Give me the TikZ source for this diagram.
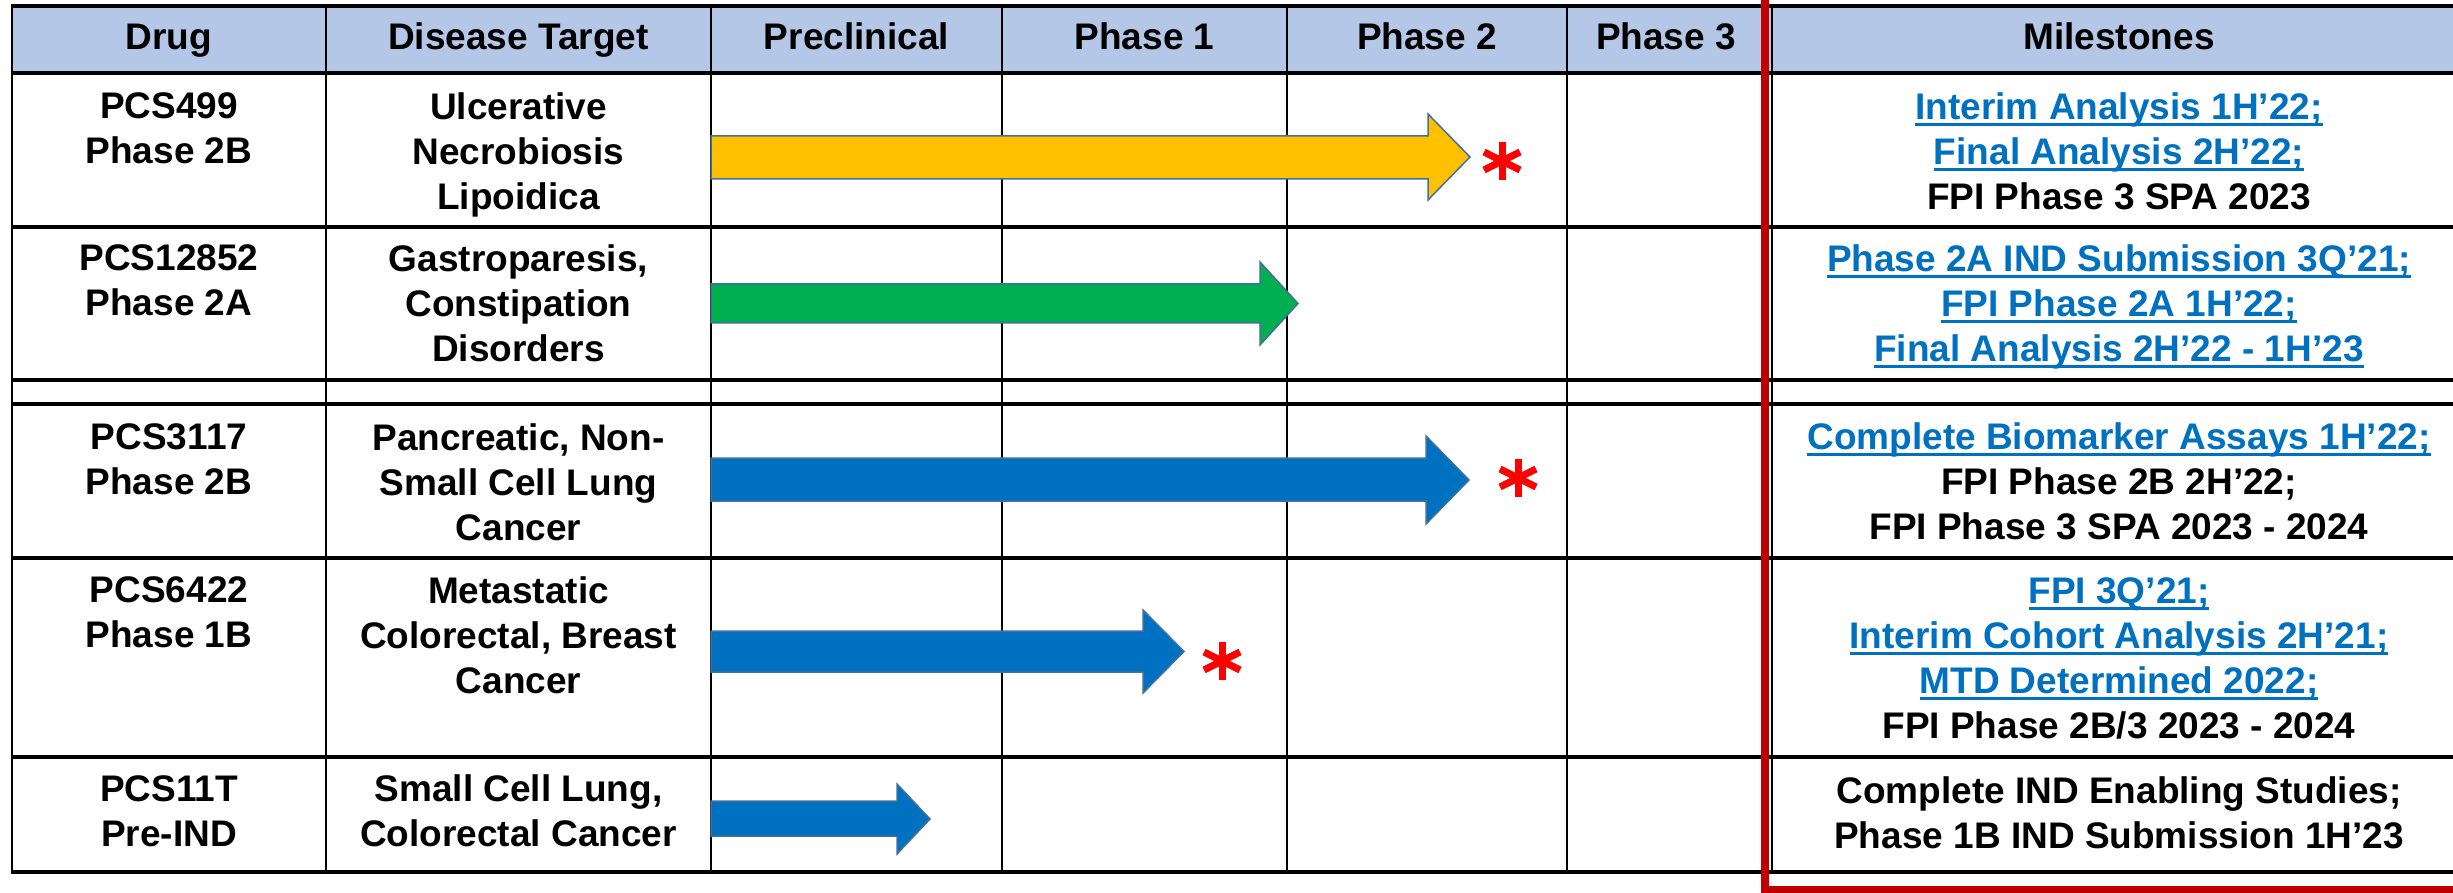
\documentclass[tikz,border=0pt]{standalone}
\usepackage{fontspec}
\setmainfont{Liberation Sans}
\definecolor{hdr}{HTML}{B4C7E7}
\definecolor{yel}{HTML}{FFC000}
\definecolor{grn}{HTML}{00B050}
\definecolor{blu}{HTML}{0070C0}
\definecolor{arrline}{HTML}{41719C}
\definecolor{linkblue}{HTML}{0070C0}
\definecolor{astred}{HTML}{FF0000}
\definecolor{redb}{HTML}{C00000}
\newcommand{\myul}[1]{\setbox0\hbox{#1}\rlap{\rule[-6.5pt]{\wd0}{2.5pt}}\box0}
\newcommand{\lk}[1]{{\color{linkblue}\myul{#1}}}
\begin{document}
\begin{tikzpicture}[x=1pt,y=-1pt,
  cell/.style={font=\fontsize{37}{45}\selectfont\bfseries, align=center, inner sep=0pt},
  head/.style={cell, anchor=base},
  grid/.style={line width=3.5pt, black},
  vgrid/.style={line width=2.5pt, black},
  arrowshape/.style={draw=arrline, line width=1.5pt, line join=miter},
  astk/.pic={
    \draw[astred, line width=7pt] (0,-19) -- (0,19);
    \draw[astred, line width=7pt] (-18,-9) -- (18,9);
    \draw[astred, line width=7pt] (-18,9) -- (18,-9);
  }]
\useasboundingbox (0,0) rectangle (2453,893);
\fill[white] (0,0) rectangle (2453,893);
% header fill
\fill[hdr] (12,6) rectangle (2470,73);
% grid
\foreach \y in {6,73,227,380,404,558,757,872}
  \draw[grid] (10.75,\y) -- (2470,\y);
\foreach \x in {12,326,711,1002,1287,1567,1772}
  \draw[vgrid] (\x,6) -- (\x,872);

% header texts
\node[head] (hDrug) at (169,50) {Drug};
\node[head] (hDis) at (518.5,50) {Disease Target};
\node[head] (hPre) at (856.5,50) {Preclinical};
\node[head] (hP1) at (1144.5,50) {Phase 1};
\node[head] (hP2) at (1427,50) {Phase 2};
\node[head] (hP3) at (1666,50) {Phase 3};
\node[head] (hMs) at (2119,50) {Milestones};

% row 1
\node[cell] (d1) at (169,128.5) {PCS499\\Phase 2B};
\node[cell] (t1) at (518.5,155) {Ulcerative\\Necrobiosis\\Lipoidica};
\node[cell] (m1) at (2119,151) {\lk{Interim Analysis 1H’22;}\\\lk{Final Analysis 2H’22;}\\FPI Phase 3 SPA 2023};
% row 2
\node[cell] (d2) at (169,280.5) {PCS12852\\Phase 2A};
\node[cell] (t2) at (518.5,303) {Gastroparesis,\\Constipation\\Disorders};
\node[cell] (m2) at (2119,306.5) {\lk{Phase 2A IND Submission 3Q’21;}\\\lk{FPI Phase 2A 1H’22;}\\\lk{Final Analysis 2H’22 - 1H’23}};
% row 3
\node[cell] (d3) at (169,459.5) {PCS3117\\Phase 2B};
\node[cell] (t3) at (518.5,482) {Pancreatic, Non-\\Small Cell Lung\\Cancer};
\node[cell] (m3) at (2119,481) {\lk{Complete Biomarker Assays 1H’22;}\\FPI Phase 2B 2H’22;\\FPI Phase 3 SPA 2023 - 2024};
% row 4
\node[cell] (d4) at (169,612.5) {PCS6422\\Phase 1B};
\node[cell] (t4) at (518.5,635) {Metastatic\\Colorectal, Breast\\Cancer};
\node[cell] (m4) at (2119,658) {\lk{FPI 3Q’21;}\\\lk{Interim Cohort Analysis 2H’21;}\\\lk{MTD Determined 2022;}\\FPI Phase 2B/3 2023 - 2024};
% row 5
\node[cell] (d5) at (169,811) {PCS11T\\Pre-IND};
\node[cell] (t5) at (518.5,811) {Small Cell Lung,\\Colorectal Cancer};
\node[cell] (m5) at (2119,812.5) {Complete IND Enabling Studies;\\Phase 1B IND Submission 1H’23};

% arrows
\path[arrowshape, fill=yel] (711,136) -- (1428,136) -- (1428,114) -- (1470,157) -- (1428,200) -- (1428,179) -- (711,179) -- cycle;
\path[arrowshape, fill=grn] (711,284) -- (1260,284) -- (1260,262) -- (1298,303.5) -- (1260,345) -- (1260,323) -- (711,323) -- cycle;
\path[arrowshape, fill=blu] (711,458) -- (1426,458) -- (1426,436) -- (1469,480) -- (1426,524) -- (1426,501) -- (711,501) -- cycle;
\path[arrowshape, fill=blu] (711,631) -- (1143,631) -- (1143,610) -- (1184,651.5) -- (1143,693) -- (1143,672) -- (711,672) -- cycle;
\path[arrowshape, fill=blu] (711,801) -- (897,801) -- (897,784) -- (930,819) -- (897,854) -- (897,836) -- (711,836) -- cycle;

% asterisks
\pic at (1502,161) {astk};
\pic at (1518,478) {astk};
\pic at (1222,661) {astk};

% red border
\draw[redb, line width=8pt, line join=miter] (1765,-10) -- (1765,890) -- (2470,890);
\end{tikzpicture}
\end{document}
